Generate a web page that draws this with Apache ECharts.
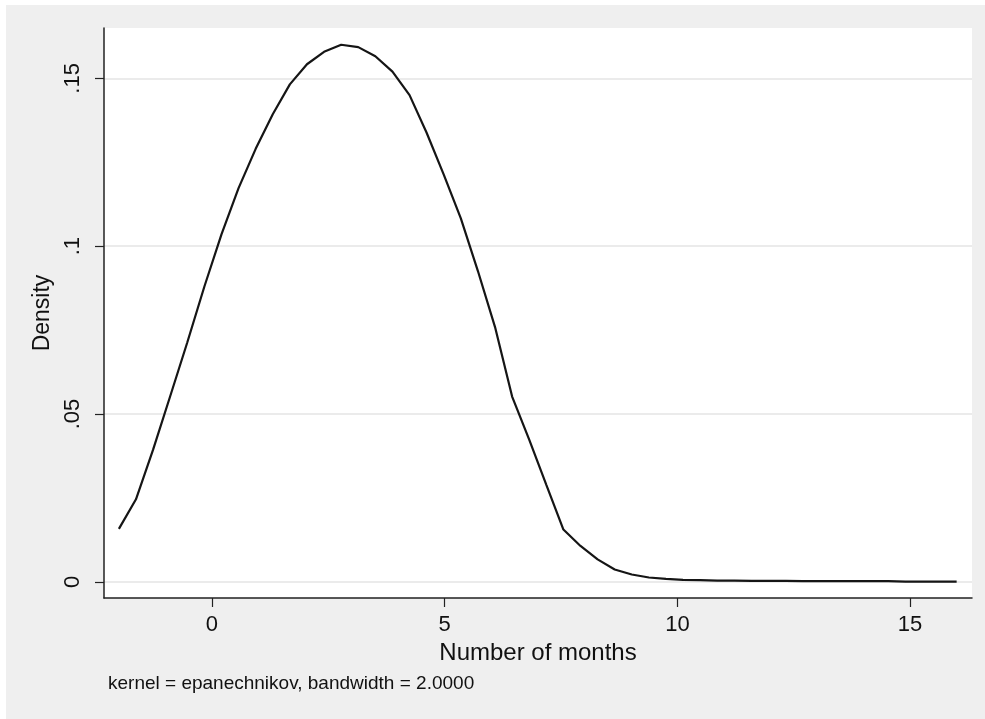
<!DOCTYPE html>
<html>
<head>
<meta charset="utf-8">
<script src="https://cdn.jsdelivr.net/npm/echarts@6/dist/echarts.min.js"></script>
<style>
    html, body {margin: 0; padding: 0; background: #fff;}
    #density_chart {position: absolute; left: 6px; top: 5px; width: 979px; height: 714px;}
</style>
</head>
<body>
<div id="density_chart"></div>
<script>
//data
var months = [-2, -1.633, -1.265, -0.898, -0.531, -0.163, 0.204, 0.571, 0.939, 1.306,
    1.673, 2.041, 2.408, 2.776, 3.143, 3.510, 3.878, 4.245, 4.612, 4.980,
    5.347, 5.714, 6.082, 6.449, 6.816, 7.184, 7.551, 7.918, 8.286, 8.653,
    9.020, 9.388, 9.755, 10.122, 10.490, 10.857, 11.224, 11.592, 11.959, 12.327,
    12.694, 13.061, 13.429, 13.796, 14.163, 14.531, 14.898, 15.265, 15.633, 16];
var density = [0.0158, 0.0246, 0.0394, 0.0553, 0.0713, 0.0880, 0.1035, 0.1173, 0.1290, 0.1393,
    0.1482, 0.1542, 0.1579, 0.1600, 0.1593, 0.1566, 0.1520, 0.1450, 0.1338, 0.1213,
    0.1083, 0.0926, 0.0759, 0.0552, 0.0424, 0.0289, 0.0156, 0.0107, 0.0067, 0.0037,
    0.0022, 0.0013, 0.0009, 0.0006, 0.0005, 0.0004, 0.0004, 0.0003, 0.0003, 0.0003,
    0.0002, 0.0002, 0.0002, 0.0002, 0.0002, 0.0002, 0.0001, 0.0001, 0.0001, 0.0001];
var xTicks = [0, 5, 10, 15];
var yTicks = [0, 0.05, 0.1, 0.15];
var yTickLabels = ['0', '.05', '.1', '.15'];

var font = '"Liberation Sans", Arial, Helvetica, sans-serif';

var densityChart = function () {
    var chart = echarts.init(document.getElementById('density_chart'));
    var points = [];
    months.forEach(function (m, i) {
        points.push([m, density[i]]);
    });
    chart.setOption({
        backgroundColor: '#efefef',
        animation: false,
        title: {
            text: 'kernel = epanechnikov, bandwidth = 2.0000',
            left: 102,
            top: 669,
            padding: 0,
            textStyle: {fontFamily: font, fontSize: 19, fontWeight: 'normal', color: '#111'}
        },
        grid: {
            left: 98,
            top: 23,
            right: 13,
            bottom: 121,
            show: true,
            backgroundColor: '#fff',
            borderWidth: 0
        },
        xAxis: {
            type: 'value',
            min: -2.32,
            max: 16.33,
            name: 'Number of months',
            nameLocation: 'middle',
            nameGap: 41,
            nameTextStyle: {fontFamily: font, fontSize: 24, color: '#111'},
            axisLine: {onZero: false, lineStyle: {color: '#222', width: 1.5}},
            axisTick: {length: 9, customValues: xTicks, lineStyle: {color: '#222', width: 1.2}},
            axisLabel: {
                customValues: xTicks,
                margin: 16,
                fontFamily: font,
                fontSize: 22,
                color: '#111'
            },
            splitLine: {show: false}
        },
        yAxis: {
            type: 'value',
            min: -0.0048,
            max: 0.165,
            name: 'Density',
            nameLocation: 'middle',
            nameRotate: 90,
            nameGap: 47,
            nameTextStyle: {fontFamily: font, fontSize: 23, color: '#111'},
            axisLine: {show: true, onZero: false, lineStyle: {color: '#222', width: 1.5}},
            axisTick: {show: true, length: 9, customValues: yTicks, lineStyle: {color: '#222', width: 1.2}},
            axisLabel: {
                customValues: yTicks,
                rotate: 90,
                margin: 20,
                fontFamily: font,
                fontSize: 22,
                color: '#111',
                formatter: function (v) {
                    var k = yTicks.indexOf(v);
                    return k >= 0 ? yTickLabels[k] : '';
                }
            },
            splitLine: {show: true, lineStyle: {color: '#e4e4e4', width: 1.5}}
        },
        series: [
            {
                type: 'line',
                data: points,
                symbol: 'none',
                smooth: false,
                lineStyle: {color: '#151515', width: 2.2}
            }
        ]
    });
};
densityChart();
</script>
</body>
</html>
